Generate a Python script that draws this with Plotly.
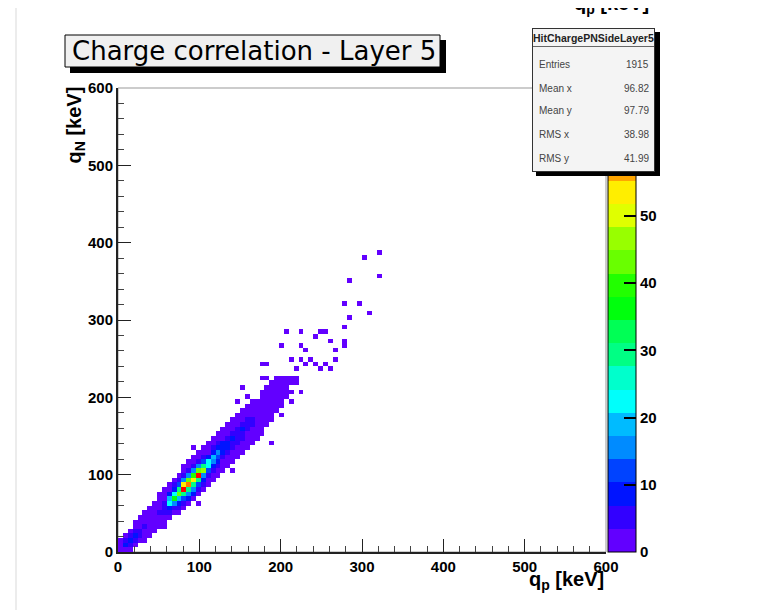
import colorsys
import plotly.graph_objects as go

# ---------------- data ----------------
BIN_KEV = 6.0          # bin width (100 x 100 bins over 0-600 keV)
N_BINS = 100

# histogram columns: (x-bin index, first y-bin index, counts going upward in y)
band_cols = [
    (0, 0, [2, 3, 1]),
    (1, 0, [3, 8, 4, 1]),
    (2, 0, [1, 6, 9, 4, 1]),
    (3, 1, [2, 5, 8, 4, 2, 1]),
    (4, 2, [2, 4, 5, 3, 2, 1]),
    (5, 2, [1, 2, 3, 4, 3, 2, 1]),
    (6, 3, [1, 2, 3, 3, 2, 2, 1]),
    (7, 4, [1, 2, 3, 3, 3, 2, 1]),
    (8, 5, [1, 2, 3, 4, 3, 2, 1, 1]),
    (9, 5, [1, 1, 3, 4, 6, 5, 3, 1, 1]),
    (10, 7, [2, 4, 10, 22, 18, 8, 3, 1]),
    (11, 8, [3, 6, 14, 36, 24, 10, 4, 1]),
    (12, 8, [2, 4, 8, 18, 42, 28, 12, 4, 1]),
    (13, 9, [3, 6, 12, 30, 69, 52, 16, 5, 2, 1]),
    (14, 10, [3, 7, 14, 30, 60, 42, 16, 6, 2, 1]),
    (15, 11, [3, 7, 14, 30, 53, 38, 15, 6, 2, 1]),
    (16, 12, [3, 6, 12, 28, 66, 44, 14, 5, 2, 1]),
    (17, 13, [2, 4, 8, 16, 46, 30, 12, 4, 1, 1]),
    (18, 14, [2, 3, 6, 12, 24, 22, 9, 3, 1, 1]),
    (19, 15, [1, 3, 5, 9, 14, 18, 9, 4, 2, 1]),
    (20, 16, [1, 2, 4, 7, 11, 16, 10, 4, 2, 1]),
    (21, 17, [1, 2, 3, 5, 8, 10, 7, 3, 2, 1]),
    (22, 18, [1, 2, 3, 5, 7, 8, 6, 3, 2, 1]),
    (23, 19, [1, 2, 3, 4, 6, 7, 5, 3, 2, 1]),
    (24, 20, [1, 2, 3, 4, 5, 6, 5, 2, 2, 1]),
    (25, 21, [1, 2, 3, 4, 5, 7, 4, 2, 1, 1]),
    (26, 22, [1, 2, 2, 3, 4, 6, 4, 2, 1, 1]),
    (27, 23, [1, 1, 2, 3, 4, 4, 3, 2, 1, 1]),
    (28, 24, [1, 1, 2, 3, 3, 3, 3, 2, 1]),
    (29, 25, [1, 1, 2, 2, 3, 3, 2, 2, 1, 1]),
    (30, 27, [1, 1, 2, 2, 3, 2, 2, 1, 1]),
    (31, 28, [1, 1, 1, 2, 2, 2, 1, 1, 1]),
    (32, 30, [1, 1, 1, 2, 1, 1, 1, 1]),
    (33, 31, [1, 1, 1, 1, 1, 1, 1]),
    (34, 33, [1, 1, 1, 1, 1]),
    (35, 34, [1, 0, 1, 1]),
    (36, 36, [1]),
]

# isolated single-entry bins (x-bin index, y-bin index)
single_x = [53, 50, 53, 47, 46, 49, 51, 47, 46, 46, 46,
            34, 37, 41, 42, 40, 43, 33, 37, 38, 44,
            35, 37, 39, 44, 29, 30, 40, 42, 38, 41, 43, 36,
            29, 30, 25, 26, 24, 36, 37, 35, 33, 31, 19, 15, 16, 23]
single_y = [64, 63, 59, 58, 53, 53, 51, 50, 48, 45, 44,
            47, 47, 47, 47, 46, 45, 44, 44, 43, 43,
            41, 41, 41, 41, 40, 40, 40, 40, 40, 39, 39, 39,
            37, 37, 35, 33, 32, 37, 34, 32, 29, 23, 24, 22, 10, 17]

z_max = 69
colorbar_ticks = [0, 10, 20, 30, 40, 50, 60]
x_ticks = [0, 100, 200, 300, 400, 500, 600]
y_ticks = [0, 100, 200, 300, 400, 500, 600]

stats_name = "HitChargePNSideLayer5"
stats_labels = ["Entries", "Mean x", "Mean y", "RMS x", "RMS y"]
stats_values = ["1915", "96.82", "97.79", "38.98", "41.99"]

title_text = "Charge correlation - Layer 5"
x_title = "q<sub>p</sub> [keV]"
y_title = "q<sub>N</sub>&nbsp;[keV]"

# ---------------- build histogram ----------------
z = [[None] * N_BINS for _ in range(N_BINS)]
for ix, iy0, counts in band_cols:
    for k, c in enumerate(counts):
        if c > 0:
            z[iy0 + k][ix] = c
for ix, iy in zip(single_x, single_y):
    z[iy][ix] = (z[iy][ix] or 0) + 1

centers = [BIN_KEV * (i + 0.5) for i in range(N_BINS)]

# ROOT "pretty palette" (HLS hue scan), 20 contour levels
n_levels = 20
colors = []
for k in range(n_levels):
    idx = int((k + 0.99) * 50 / n_levels)
    hue = 280 - (idx + 1) * (280 / 50)
    r, g, b = colorsys.hls_to_rgb(hue / 360.0, 0.5, 1.0)
    colors.append(f"rgb({int(r*255)},{int(g*255)},{int(b*255)})")
cscale = []
for k, c in enumerate(colors):
    cscale.append([k / n_levels, c])
    cscale.append([(k + 1) / n_levels, c])

# page body has an 8 px margin: figure is 768x602 placed at (8, 8)
OFF = 8
FIG_W, FIG_H = 776 - OFF, 610 - OFF
# plot area in screen pixels: x 118..606, y 88..552
L, R, T, B = 118, 606, 88, 552
def PX(px):
    return (px - L) / (R - L)
def PY(py):
    return (B - py) / (B - T)

FONT = "Liberation Sans, Arial, sans-serif"

fig = go.Figure()
fig.add_trace(go.Heatmap(
    x=centers, y=centers, z=z, zmin=0, zmax=z_max,
    colorscale=cscale, zsmooth=False, hoverongaps=False,
    colorbar=dict(
        x=PX(608), xanchor="left", xpad=0, xref="paper",
        y=0, yanchor="bottom", ypad=0, len=1, lenmode="fraction",
        thickness=28, outlinecolor="black", outlinewidth=1,
        tickmode="array", tickvals=colorbar_ticks, ticks="inside",
        ticklen=12, tickcolor="black", tickwidth=1.5,
        tickfont=dict(family=FONT, size=15, color="black", weight="bold"),
    ),
))

axis_common = dict(
    range=[0, 600], showgrid=False, zeroline=False,
    ticks="inside", ticklen=13, tickwidth=1, tickcolor="#222",
    showline=True, linecolor="#222", linewidth=2,
    tickfont=dict(family=FONT, size=15, color="black", weight="bold"),
    minor=dict(dtick=20, ticks="inside", ticklen=6, tickcolor="#444", showgrid=False),
)
fig.update_xaxes(tickmode="array", tickvals=x_ticks, **axis_common)
fig.update_yaxes(tickmode="array", tickvals=y_ticks, **axis_common)

shapes = [
    # frame
    dict(type="rect", xref="paper", yref="paper", x0=0, x1=1, y0=0, y1=1,
         line=dict(color="#999", width=1), layer="below"),
    # faint canvas edge on the left
    dict(type="line", xref="paper", yref="paper", x0=PX(16), x1=PX(16),
         y0=PY(0), y1=PY(620), line=dict(color="#ececec", width=2)),
    # title shadow + box
    dict(type="rect", xref="paper", yref="paper", x0=PX(70), x1=PX(446),
         y0=PY(73), y1=PY(40), fillcolor="black", line=dict(width=0)),
    dict(type="rect", xref="paper", yref="paper", x0=PX(65), x1=PX(440),
         y0=PY(67), y1=PY(35), fillcolor="#f0f0f0", line=dict(color="black", width=1)),
]

ann = []
ann.append(dict(text=title_text, x=PX(70), y=PY(51), xref="paper", yref="paper",
                xanchor="left", yanchor="middle", showarrow=False,
                font=dict(family="DejaVu Sans, sans-serif", size=26, color="black")))
ann.append(dict(text=x_title, x=1.0, y=PY(580), xref="paper", yref="paper",
                xanchor="right", yanchor="middle", showarrow=False,
                font=dict(family=FONT, size=20, color="black", weight="bold")))
ann.append(dict(text=y_title, x=PX(75), y=PY(85), xref="paper", yref="paper",
                xanchor="center", yanchor="top", textangle=-90, showarrow=False,
                font=dict(family=FONT, size=20, color="black", weight="bold")))
# cut-off axis title of a neighbouring pad at the very top
ann.append(dict(text=x_title, x=PX(651), y=PY(19), xref="paper", yref="paper",
                xanchor="right", yanchor="bottom", showarrow=False,
                font=dict(family=FONT, size=20, color="black", weight="bold")))

# stats box (annotations so it covers the colour bar)
ann.append(dict(text=" ", x=PX(536), y=PY(32), xref="paper", yref="paper",
                xanchor="left", yanchor="top", showarrow=False, width=124, height=144,
                bgcolor="black", borderpad=0, borderwidth=0, font=dict(size=4)))
ann.append(dict(text=" ", x=PX(532), y=PY(28), xref="paper", yref="paper",
                xanchor="left", yanchor="top", showarrow=False, width=121, height=142,
                bgcolor="#f4f4f4", bordercolor="#333", borderpad=0, borderwidth=1,
                font=dict(size=4)))
ann.append(dict(text=" ", x=PX(533), y=PY(46), xref="paper", yref="paper",
                xanchor="left", yanchor="top", showarrow=False, width=121, height=1,
                bgcolor="#666", borderpad=0, borderwidth=0, font=dict(size=1)))
ann.append(dict(text=stats_name, x=PX(593.5), y=PY(38), xref="paper", yref="paper",
                xanchor="center", yanchor="middle", showarrow=False,
                font=dict(family=FONT, size=10.5, color="#222", weight="bold")))
row_y = [64, 88, 111, 134, 158]
for lab, val, yy in zip(stats_labels, stats_values, row_y):
    ann.append(dict(text=lab, x=PX(537), y=PY(yy), xref="paper", yref="paper",
                    xanchor="left", yanchor="middle", showarrow=False,
                    font=dict(family=FONT, size=10, color="#444")))
    ann.append(dict(text=val, x=PX(651), y=PY(yy), xref="paper", yref="paper",
                    xanchor="right", yanchor="middle", showarrow=False,
                    font=dict(family=FONT, size=10, color="#444")))

fig.update_layout(
    width=FIG_W, height=FIG_H, autosize=False,
    margin=dict(l=L - OFF, r=FIG_W - (R - OFF), t=T - OFF, b=FIG_H - (B - OFF), pad=0),
    paper_bgcolor="white", plot_bgcolor="white",
    shapes=shapes, annotations=ann, showlegend=False,
)

fig.write_html("out.html")
